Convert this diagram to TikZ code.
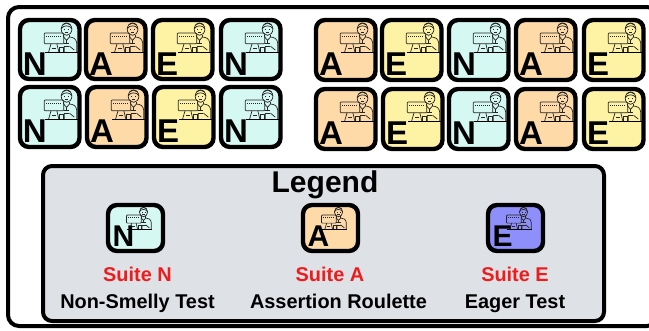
\documentclass[tikz,border=0pt]{standalone}
\usepackage{fontspec}
\setmainfont{Liberation Sans}
\usetikzlibrary{calc}
\definecolor{cn}{HTML}{D5F8F3}
\definecolor{ca}{HTML}{FDDAA8}
\definecolor{ce}{HTML}{FEF2A5}
\definecolor{cb}{HTML}{8F8FFB}
\definecolor{lg}{HTML}{DEE1E6}
\definecolor{rd}{HTML}{EE1C1C}
\tikzset{
  cardbox/.style={draw=black,line width=4.4pt,rounded corners=9pt,anchor=north west,inner sep=0pt,outer sep=0pt},
  ink/.style={draw=black!85,line width=.7pt},
  captxt/.style={font=\bfseries\fontsize{19.9}{22}\selectfont,anchor=base},
  suite/.style={captxt,text=rd},
}
\newcommand\devicon{%
  \draw[ink,rounded corners=.8pt] (25,13.5) rectangle (45,24.5);
  \draw[black!85,line width=.8pt,dash pattern=on 1pt off 1pt] (27,16.5) -- (43,16.5);
  \draw[ink] (32,24.5) -- (29.5,33) (38,24.5) -- (40,33);
  \draw[ink] (33,29) -- (37,29);
  \draw[ink] (41,28) rectangle (45,33);
  \draw[black,line width=1.3pt] (26,33.5) -- (60,33.5);
  \draw[ink] (48,9.5) circle[x radius=5.5,y radius=6.3];
  \draw[ink] (42.5,9) .. controls (45,5) and (51,5) .. (53.5,9);
  \draw[ink] (44,5) .. controls (46,2.5) and (50,2.5) .. (52,5);
  \draw[ink] (46,9.5) -- (46,10) (50,9.5) -- (50,10) (46.5,12.5) .. controls (47.5,13.2) and (48.5,13.2) .. (49.5,12.5);
  \draw[ink] (45,15.5) -- (45,18) (51,15.5) -- (51,18);
  \draw[ink] (45,17.5) -- (48,21) -- (51,17.5) .. controls (55,18) and (58,19) .. (58.5,24) -- (58.5,33);
  \draw[ink] (45,24) -- (51,24) (45,27) -- (51,27) (48,21) -- (48,24);
  \draw[ink] (46,27) -- (46,33) (51,27) -- (56,31);
}
\newcommand\card[9]{%
  \node[cardbox,fill=#6,minimum width=#4pt,minimum height=#5pt] (#1) at (#2,#3) {};
  \begin{scope}[shift={(#2,#3)},scale=#8]\devicon\end{scope}
  \node[anchor=base west,inner sep=0pt,font=\bfseries\fontsize{#9}{#9}\selectfont] (#1t) at ($(#2,#3)+(\lx,\ly)$) {#7};
}
\begin{document}
\begin{tikzpicture}[x=1pt,y=-1pt]
\useasboundingbox (0,0) rectangle (649,330);
\clip (0,0) rectangle (649,330);
\node[draw=black,line width=4pt,rounded corners=11pt,anchor=north west,inner sep=0pt,outer sep=0pt,minimum width=650pt,minimum height=319pt] (frame) at (8,7) {};
\def\lx{2.8}\def\ly{55}
\card{a1}{20}{20}{59.5}{59}{cn}{N}{.97}{33}
\card{a2}{86}{20}{59.5}{59}{ca}{A}{.97}{33}
\card{a3}{153}{20}{59.5}{59}{ce}{E}{.97}{33}
\card{a4}{221}{20}{59.5}{59}{cn}{N}{.97}{33}
\card{b1}{20}{87}{59.5}{60}{cn}{N}{.97}{33}
\card{b2}{87}{87}{59.5}{60}{ca}{A}{.97}{33}
\card{b3}{154}{87}{59.5}{60}{ce}{E}{.97}{33}
\card{b4}{221}{87}{59.5}{60}{cn}{N}{.97}{33}
\card{c1}{316}{20}{59.5}{60}{ca}{A}{.97}{33}
\card{c2}{382}{20}{59.5}{60}{ce}{E}{.97}{33}
\card{c3}{449}{20}{59.5}{60}{cn}{N}{.97}{33}
\card{c4}{516}{20}{59.5}{60}{ca}{A}{.97}{33}
\card{c5}{584}{20}{59.5}{60}{ce}{E}{.97}{33}
\card{d1}{316}{89}{59.5}{60}{ca}{A}{.97}{33}
\card{d2}{383}{89}{59.5}{60}{ce}{E}{.97}{33}
\card{d3}{449}{89}{59.5}{60}{cn}{N}{.97}{33}
\card{d4}{516}{89}{59.5}{60}{ca}{A}{.97}{33}
\card{d5}{584}{89}{59.5}{60}{ce}{E}{.97}{33}
\node[draw=black,fill=lg,line width=4pt,rounded corners=9pt,anchor=north west,inner sep=0pt,outer sep=0pt,minimum width=561pt,minimum height=155pt] (legend) at (43,166) {};
\node[anchor=base,inner sep=0pt,font=\bfseries\fontsize{30}{32}\selectfont] (ltitle) at (325,192) {Legend};
\def\lx{4.5}\def\ly{41}
\card{ln}{108}{205}{55}{46}{cn}{N}{.74}{30}
\card{la}{303}{205}{55}{46}{ca}{A}{.74}{30}
\card{le}{488}{205}{55}{46}{cb}{E}{.74}{30}
\node[suite] (sn) at (137.5,281) {Suite N};
\node[suite] (sa) at (330,281) {Suite A};
\node[suite] (se) at (515,281) {Suite E};
\node[captxt] (tn) at (137.5,308) {Non-Smelly Test};
\node[captxt] (ta) at (338.5,308) {Assertion Roulette};
\node[captxt] (te) at (515,308) {Eager Test};
\end{tikzpicture}
\end{document}
